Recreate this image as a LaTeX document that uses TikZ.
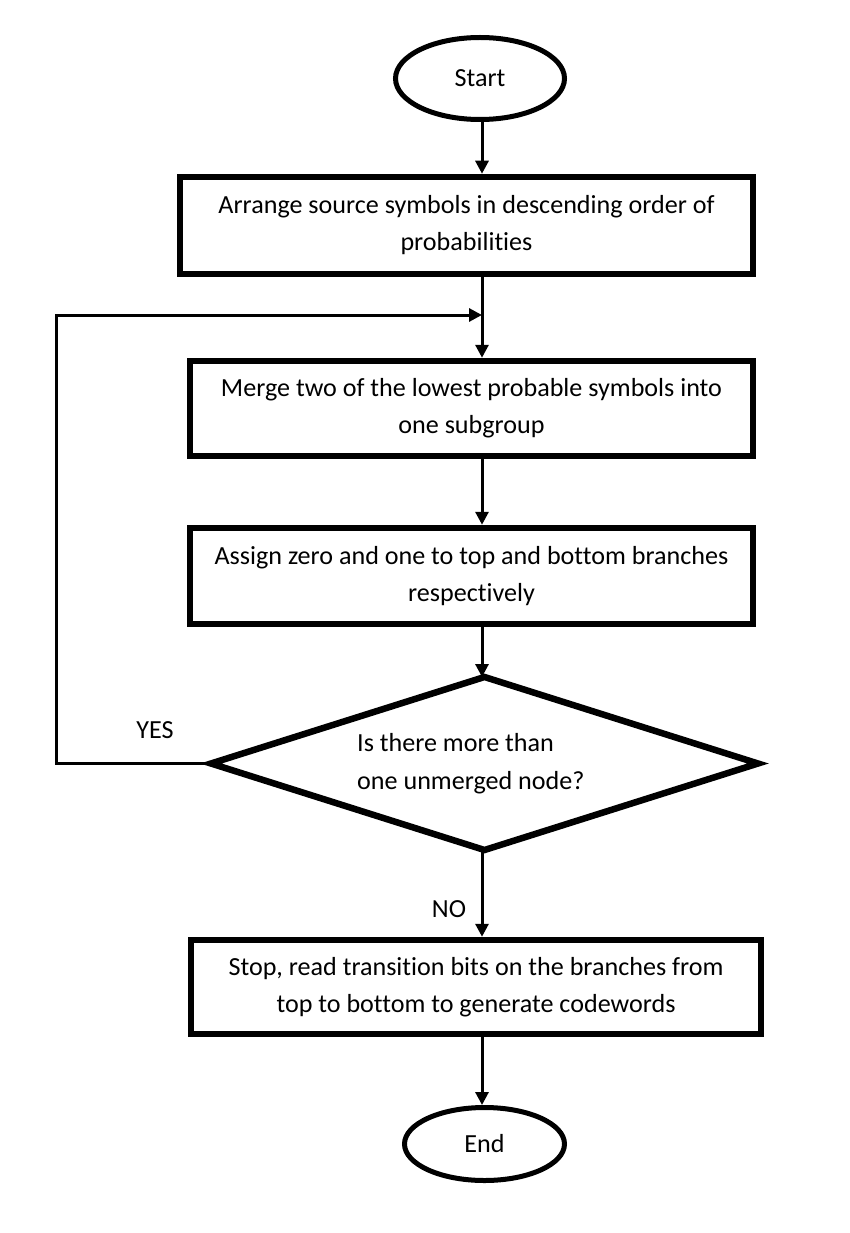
\documentclass[tikz,border=0pt]{standalone}
\usepackage{fontspec}
\setmainfont{Carlito}[Ligatures={NoCommon}]
\usetikzlibrary{shapes.geometric,arrows.meta}
\tikzset{
  term/.style={ellipse, draw, line width=5pt, inner sep=0pt, outer sep=2.5pt, font=\fontsize{26.1}{37}\selectfont},
  procbox/.style={rectangle, draw, line width=6.5pt, inner sep=0pt, outer sep=3.25pt, align=center, font=\fontsize{26.1}{37}\selectfont},
  decision/.style={diamond, draw, line width=6.5pt, inner sep=0pt, outer sep=0pt},
  lbl/.style={font=\fontsize{26.1}{38}\selectfont, inner sep=0pt},
  arr/.style={line width=3pt, -{Triangle[length=13pt,width=13pt]}},
}
\begin{document}
\begin{tikzpicture}[x=1pt,y=-1pt]
  \useasboundingbox (0,0) rectangle (850,1233);
  \fill[white] (0,0) rectangle (850,1233);

  \node[term, minimum width=169pt, minimum height=82pt] (start) at (480,78.5) {Start};
  \node[procbox, minimum width=573pt, minimum height=97pt] (box1) at (466.5,225.5)
    {Arrange source symbols in descending order of\\probabilities};
  \node[procbox, minimum width=563pt, minimum height=95pt] (box2) at (471.5,408.5)
    {Merge two of the lowest probable symbols into\\one subgroup};
  \node[procbox, minimum width=563pt, minimum height=96pt] (box3) at (471.5,576)
    {Assign zero and one to top and bottom branches\\respectively};
  \node[decision, minimum width=547pt, minimum height=173pt] (dia) at (484.5,763.5) {};
  \node[lbl, align=left, anchor=west] (dtext) at (357,764) {Is there more than\\one unmerged node?};
  \node[procbox, minimum width=570pt, minimum height=94pt] (box4) at (476,987)
    {Stop, read transition bits on the branches from\\top to bottom to generate codewords};
  \node[term, minimum width=160pt, minimum height=73pt] (fin) at (484.5,1144) {End};

  \node[lbl] (yes) at (155,730) {YES};
  \node[lbl] (no) at (449,909) {NO};

  \coordinate (ax) at (482,0);
  \coordinate (lpL) at (56,315);
  \coordinate (lpT) at (482,315);

  \draw[arr] (ax |- start.south) -- (ax |- box1.north);
  \draw[arr] (ax |- box1.south) -- (ax |- box2.north);
  \draw[arr] (ax |- box2.south) -- (ax |- box3.north);
  \draw[arr] (ax |- box3.south) -- (ax |- dia.north);
  \draw[arr] (ax |- dia.south) -- (ax |- box4.north);
  \draw[arr] (ax |- box4.south) -- (ax |- fin.north);
  \draw[arr] (dia.west) -| (lpL) -- (lpT);
\end{tikzpicture}
\end{document}
